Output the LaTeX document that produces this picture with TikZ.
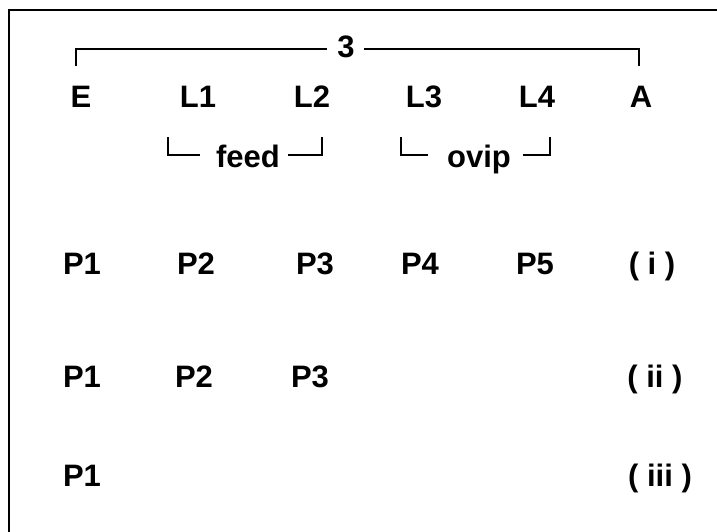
\documentclass[tikz,border=0pt]{standalone}
\usepackage{fontspec}
\setmainfont{Liberation Sans}
\begin{document}
\begin{tikzpicture}[x=1pt,y=-1pt,
  lbl/.style={anchor=base,inner sep=0pt,font=\fontsize{31}{37}\selectfont\bfseries},
  brk/.style={line width=1.3pt},
  frame/.style={line width=1.8pt}]
\useasboundingbox (0,0) rectangle (717,532);
% frame (top and left edges)
\draw[frame] (717,10) -- (9,10) -- (9,532);
% top bracket
\node[lbl] (three) at (346,58) {3};
\coordinate (tl) at (76,66);
\coordinate (tr) at (639,66);
\draw[brk] (tl) -- (76,49) -- (327,49);
\draw[brk] (364,49) -- (639,49) -- (tr);
% stages
\node[lbl] (E)  at (81,108)  {E};
\node[lbl] (L1) at (198,108) {L1};
\node[lbl] (L2) at (312,108) {L2};
\node[lbl] (L3) at (424,108) {L3};
\node[lbl] (L4) at (537,108) {L4};
\node[lbl] (A)  at (641,108) {A};
% feed bracket
\node[lbl] (feed) at (248,167) {feed};
\draw[brk] (168,137) -- (168,155) -- (200,155);
\draw[brk] (288,155) -- (322,155) -- (322,137);
% ovip bracket
\node[lbl] (ovip) at (479,167) {ovip};
\draw[brk] (401,137) -- (401,155) -- (428,155);
\draw[brk] (523,155) -- (550,155) -- (550,137);
% row (i)
\node[lbl] (a1) at (82,274)  {P1};
\node[lbl] (a2) at (196,274) {P2};
\node[lbl] (a3) at (315,274) {P3};
\node[lbl] (a4) at (420,274) {P4};
\node[lbl] (a5) at (535,274) {P5};
\node[lbl] (ai) at (652,274) {( i )};
% row (ii)
\node[lbl] (b1) at (82,387)  {P1};
\node[lbl] (b2) at (194,387) {P2};
\node[lbl] (b3) at (310,387) {P3};
\node[lbl] (bii) at (655,387) {( ii )};
% row (iii)
\node[lbl] (c1) at (82,486)  {P1};
\node[lbl] (ciii) at (660,486) {( iii )};
\end{tikzpicture}
\end{document}
